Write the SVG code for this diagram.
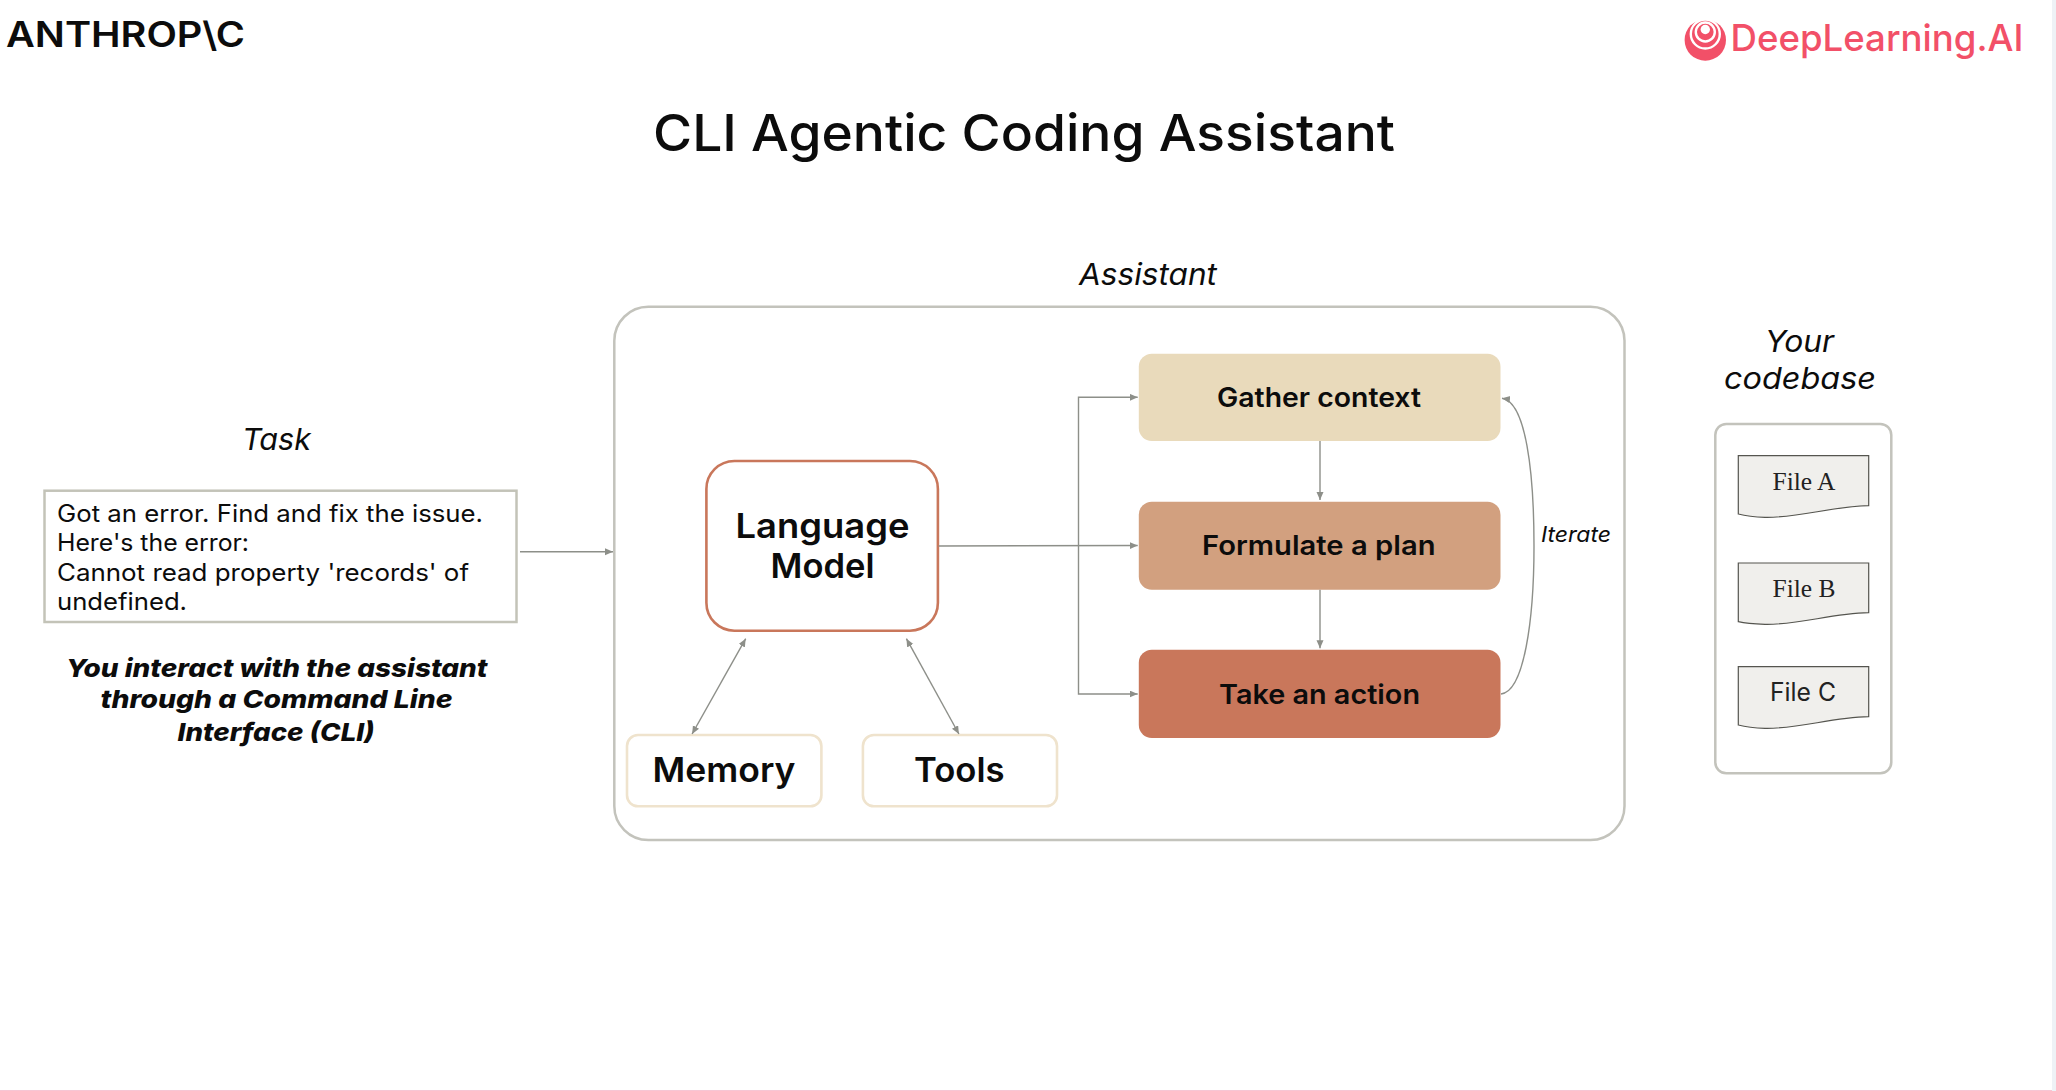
<svg xmlns="http://www.w3.org/2000/svg" width="2056" height="1091" viewBox="0 0 2056 1091">
<style>
text{font-family:"Inter","Liberation Sans",sans-serif;fill:#0c0c0c}
.lab{font-style:italic;font-size:30px;font-weight:400}
.body{font-size:24px;font-weight:400}
.note{font-size:25px;font-weight:800;font-style:italic}
.big{font-size:34px;font-weight:600}
.step{font-size:27px;font-weight:600}
.file{font-size:26px;font-family:"Liberation Serif",serif;fill:#222}
.frame{fill:#fff;stroke:#c3c3bc;stroke-width:2.5}
.doc{fill:#f0efec;stroke:#55554f;stroke-width:1.2}
.con{fill:none;stroke:#8d8f89;stroke-width:1.4}
.arrow{marker-end:url(#ah)}
.both{marker-end:url(#ah);marker-start:url(#ah)}
</style>
<defs>
<marker id="ah" markerUnits="userSpaceOnUse" markerWidth="10" markerHeight="8" refX="8" refY="3.5" orient="auto-start-reverse"><path d="M0 0L8 3.5L0 7Z" fill="#8d8f89"/></marker>
</defs>
<rect width="2056" height="1091" fill="#fff"/>
<rect x="2052" width="4" height="1091" fill="#eef2f6"/>
<rect y="1090" width="2052" height="1" fill="#f6c6d4"/>
<g id="logo-anthropic"><text x="6" y="46.5" font-size="35" font-weight="600" textLength="239" lengthAdjust="spacingAndGlyphs">ANTHROP\C</text></g>
<g id="logo-deeplearning">
<circle cx="1705.3" cy="40" r="20.7" fill="#f25068"/>
<circle cx="1705.3" cy="34" r="14.5" fill="none" stroke="#fff" stroke-width="2.4"/>
<circle cx="1705.3" cy="32" r="9.5" fill="none" stroke="#fff" stroke-width="2.4"/>
<circle cx="1705.3" cy="29.5" r="4.7" fill="#fff"/>
<text x="1730.5" y="51" font-size="37" font-weight="500" style="fill:#f25068" textLength="293" lengthAdjust="spacingAndGlyphs">DeepLearning.AI</text>
</g>
<text id="title" x="653" y="151" font-size="51" font-weight="500" textLength="742" lengthAdjust="spacingAndGlyphs">CLI Agentic Coding Assistant</text>
<text class="lab" x="1079" y="284.5" textLength="138" lengthAdjust="spacingAndGlyphs">Assistant</text>
<text class="lab" x="242" y="450" textLength="69" lengthAdjust="spacingAndGlyphs">Task</text>
<text class="lab" x="1765" y="352.3" textLength="69" lengthAdjust="spacingAndGlyphs">Your</text>
<text class="lab" x="1724" y="389" textLength="152" lengthAdjust="spacingAndGlyphs">codebase</text>
<g id="assistant"><rect class="frame" x="614.3" y="306.8" width="1010.2" height="533.2" rx="34"/></g>
<g id="task">
<rect x="44.5" y="490.7" width="472" height="131.3" fill="#fff" stroke="#c3c3b8" stroke-width="2.5"/>
<text class="body" x="57" y="521.7" textLength="426" lengthAdjust="spacingAndGlyphs">Got an error. Find and fix the issue.</text>
<text class="body" x="57" y="551.3" textLength="192" lengthAdjust="spacingAndGlyphs">Here's the error:</text>
<text class="body" x="57" y="581" textLength="412" lengthAdjust="spacingAndGlyphs">Cannot read property 'records' of</text>
<text class="body" x="57" y="610.3" textLength="130" lengthAdjust="spacingAndGlyphs">undefined.</text>
</g>
<g id="task-note">
<text class="note" x="66" y="676.7" textLength="421.5" lengthAdjust="spacingAndGlyphs">You interact with the assistant</text>
<text class="note" x="100.5" y="708.3" textLength="352" lengthAdjust="spacingAndGlyphs">through a Command Line</text>
<text class="note" x="177.5" y="741" textLength="197" lengthAdjust="spacingAndGlyphs">Interface (CLI)</text>
</g>
<g id="language-model">
<rect x="706.4" y="461" width="231.5" height="169.7" rx="28" fill="#fff" stroke="#c9775b" stroke-width="2.6"/>
<text class="big" x="735.5" y="537.7" textLength="174" lengthAdjust="spacingAndGlyphs">Language</text>
<text class="big" x="770.5" y="577.7" textLength="104" lengthAdjust="spacingAndGlyphs">Model</text>
</g>
<g id="memory">
<rect x="627" y="735" width="194.4" height="71.3" rx="11" fill="#fff" stroke="#efe3cd" stroke-width="2.6"/>
<text class="big" x="652.5" y="782.3" textLength="143" lengthAdjust="spacingAndGlyphs">Memory</text>
</g>
<g id="tools">
<rect x="862.9" y="735" width="194.1" height="71.3" rx="11" fill="#fff" stroke="#efe3cd" stroke-width="2.6"/>
<text class="big" x="914" y="782.3" textLength="90.5" lengthAdjust="spacingAndGlyphs">Tools</text>
</g>
<g id="gather-context">
<rect x="1138.8" y="353.7" width="361.7" height="87.3" rx="13" fill="#e9dabb"/>
<text class="step" x="1217" y="407.3" textLength="204" lengthAdjust="spacingAndGlyphs">Gather context</text>
</g>
<g id="formulate-plan">
<rect x="1138.8" y="501.7" width="361.7" height="88" rx="13" fill="#d2a07f"/>
<text class="step" x="1202" y="555" textLength="233.5" lengthAdjust="spacingAndGlyphs">Formulate a plan</text>
</g>
<g id="take-action">
<rect x="1138.8" y="649.7" width="361.7" height="88.3" rx="13" fill="#c9775b"/>
<text class="step" x="1219" y="703.6" textLength="201" lengthAdjust="spacingAndGlyphs">Take an action</text>
</g>
<text class="lab" x="1541" y="541.7" style="font-size:22px" textLength="70" lengthAdjust="spacingAndGlyphs">Iterate</text>
<g id="codebase">
<rect class="frame" x="1715.3" y="424" width="176" height="349.3" rx="11"/>
</g>
<g id="file-a">
<path class="doc" d="M1738.3 455.7H1868.7V505.7C1830 506.5 1800 518 1765 517.3C1755 517 1746 516 1738.3 514Z"/>
<text class="file" x="1772.5" y="489.7" textLength="63" lengthAdjust="spacingAndGlyphs">File A</text>
</g>
<g id="file-b">
<path class="doc" d="M1738.3 563H1868.7V612.7C1830 613.5 1800 625 1765 624.3C1755 624 1746 623.5 1738.3 621.7Z"/>
<text class="file" x="1772.5" y="597" textLength="63" lengthAdjust="spacingAndGlyphs">File B</text>
</g>
<g id="file-c">
<path class="doc" d="M1738.3 666.7H1868.7V716.7C1830 717.5 1800 729 1765 728.3C1755 728 1746 727 1738.3 725Z"/>
<text x="1770" y="701" font-size="25" textLength="66" lengthAdjust="spacingAndGlyphs" style="fill:#222">File C</text>
</g>
<g id="connectors">
<path class="con arrow" d="M520 551.7H613"/>
<path class="con arrow" d="M938.6 546L1137.7 545.5"/>
<path class="con arrow" d="M1078.5 545.7V397.3H1137.7"/>
<path class="con arrow" d="M1078.5 545.7V694H1137.7"/>
<path class="con both" d="M692.1 734L745.7 638.7"/>
<path class="con both" d="M958.9 734L906.4 638.7"/>
<path class="con arrow" d="M1320 441V500"/>
<path class="con arrow" d="M1320 589.7V648.3"/>
<path class="con arrow" d="M1501 694C1524 692 1534 620 1534 546C1534 472 1526 402 1502 398.3"/>
</g>
</svg>
